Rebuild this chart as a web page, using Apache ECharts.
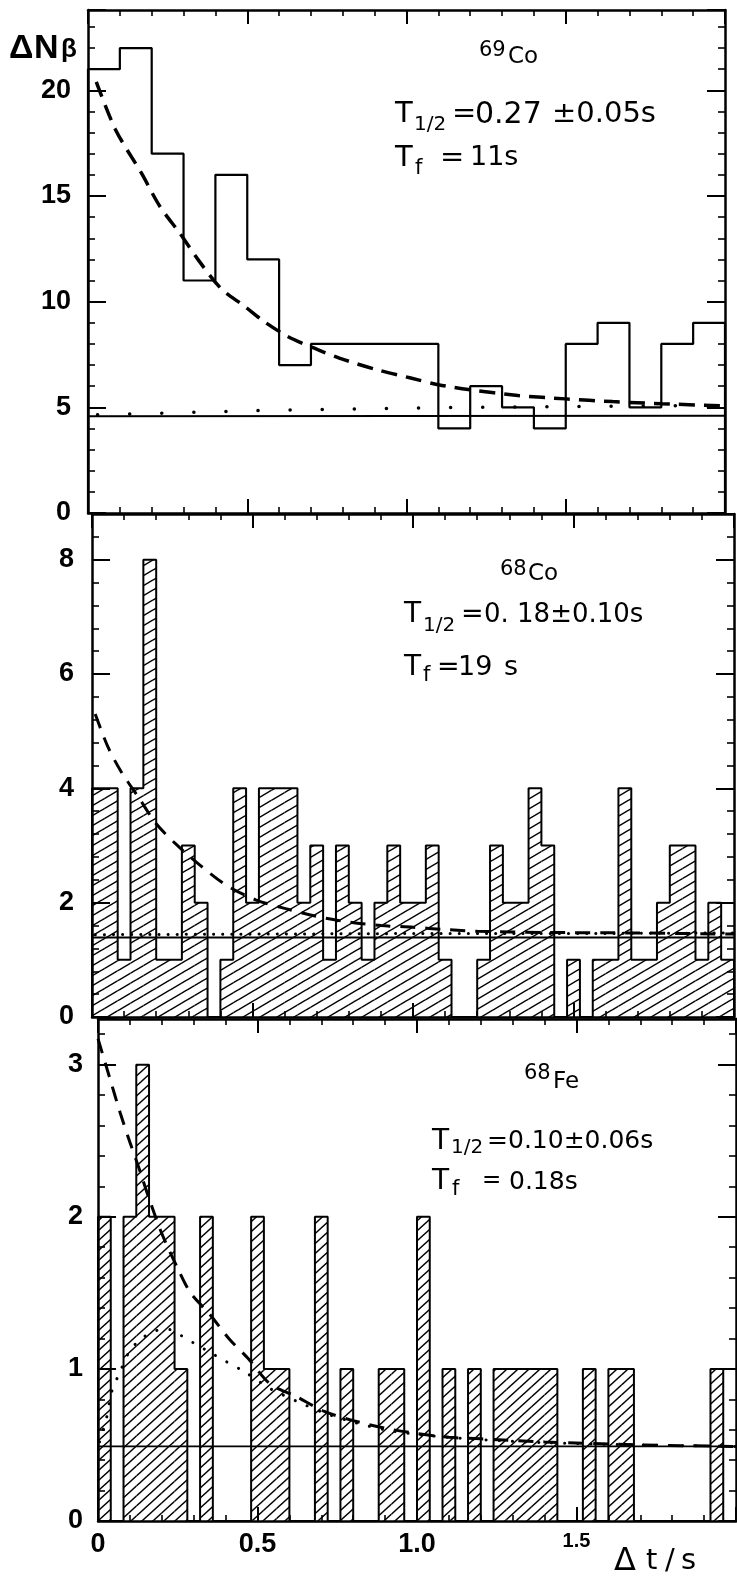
<!DOCTYPE html>
<html><head><meta charset="utf-8">
<script src="https://cdn.jsdelivr.net/npm/echarts@6/dist/echarts.min.js"></script>
<style>html,body{margin:0;padding:0;background:#fff}#c{width:737px;height:1579px}</style>
</head><body><div id="c"></div>
<script>
// ---------------- data ----------------
// x axis (all panels): Δt in s
const xTickLabels = ['0', '0.5', '1.0', '1.5', ''];

// Panel 1: 69Co, bins of 0.1 s
const co69BinWidth = 0.1;
const co69Counts = [21, 22, 17, 11, 16, 12, 7, 8, 8, 8, 8, 4, 6, 5, 4, 8, 9, 5, 8, 9];
const co69Fit = [[0.026, 20.4], [0.086, 18.15], [0.167, 16.1], [0.226, 14.5], [0.29, 13.2], [0.345, 12.0], [0.419, 10.6], [0.49, 9.8], [0.552, 9.07], [0.626, 8.36], [0.697, 7.88], [0.789, 7.33], [0.907, 6.78], [1.01, 6.4], [1.1, 6.07], [1.2, 5.83], [1.35, 5.56], [1.5, 5.4], [1.647, 5.27], [1.8, 5.17], [2.0, 5.07]];
const co69Dotted = [[0.03, 4.65], [0.15, 4.69], [0.37, 4.78], [0.6, 4.87], [0.9, 4.94], [1.2, 5.0], [1.5, 5.03], [1.8, 5.07], [2.0, 5.08]];
const co69Background = [[0, 4.58], [2.0, 4.6]];
const co69YTicks = ['0', '5', '10', '15', '20'];

// Panel 2: 68Co, bins of 0.04 s
const co68BinWidth = 0.04;
const co68Counts = [4, 4, 1, 4, 8, 1, 1, 3, 2, 0, 1, 4, 2, 4, 4, 4, 2, 3, 1, 3, 2, 1, 2, 3, 2, 2, 3, 1, 0, 0, 1, 3, 2, 2, 4, 3, 0, 1, 0, 1, 1, 4, 1, 1, 2, 3, 3, 1, 2, 1];
const co68Fit = [[0.01, 5.3], [0.05, 4.72], [0.09, 4.3], [0.15, 3.8], [0.2, 3.38], [0.27, 2.98], [0.34, 2.64], [0.42, 2.3], [0.51, 2.05], [0.6, 1.9], [0.7, 1.76], [0.8, 1.66], [0.9, 1.6], [1.0, 1.57], [1.1, 1.53], [1.2, 1.5], [1.4, 1.48], [1.7, 1.47], [2.0, 1.45]];
const co68Dotted = [[0.01, 1.44], [0.5, 1.45], [1.0, 1.46], [1.5, 1.46], [2.0, 1.47]];
const co68Background = [[0, 1.39], [2.0, 1.39]];
const co68YTicks = ['0', '2', '4', '6', '8'];

// Panel 3: 68Fe, bins of 0.04 s
const fe68BinWidth = 0.04;
const fe68Counts = [2, 0, 2, 3, 2, 2, 1, 0, 2, 0, 0, 0, 2, 1, 1, 0, 0, 2, 0, 1, 0, 0, 1, 1, 0, 2, 0, 1, 0, 1, 0, 1, 1, 1, 1, 1, 0, 0, 1, 0, 1, 1, 0, 0, 0, 0, 0, 0, 1, 0];
const fe68Fit = [[0, 3.17], [0.03, 2.96], [0.07, 2.68], [0.1, 2.49], [0.13, 2.31], [0.16, 2.12], [0.2, 1.89], [0.25, 1.66], [0.29, 1.5], [0.35, 1.36], [0.41, 1.2], [0.47, 1.07], [0.54, 0.9], [0.62, 0.82], [0.71, 0.72], [0.8, 0.66], [0.9, 0.61], [1.0, 0.575], [1.1, 0.55], [1.2, 0.54], [1.4, 0.52], [1.7, 0.5], [2.0, 0.49]];
const fe68Dotted = [[0.005, 0.52], [0.027, 0.68], [0.043, 0.85], [0.069, 0.98], [0.1, 1.12], [0.137, 1.2], [0.18, 1.25], [0.22, 1.26], [0.26, 1.22], [0.3, 1.17], [0.35, 1.11], [0.4, 1.05], [0.46, 0.98], [0.54, 0.87], [0.62, 0.79], [0.71, 0.71], [0.8, 0.65], [0.9, 0.6], [1.0, 0.57], [1.1, 0.55], [1.2, 0.535], [1.4, 0.515], [1.7, 0.5], [2.0, 0.49]];
const fe68Background = [[0, 0.49], [2.0, 0.49]];
const fe68YTicks = ['0', '1', '2', '3'];

// ---------------- helpers ----------------
function hatchPattern(w, h, lw) {
  const c = document.createElement('canvas');
  c.width = w; c.height = h;
  const g = c.getContext('2d');
  g.strokeStyle = '#000'; g.lineWidth = lw;
  for (let k = -1; k <= 1; k++) {
    g.beginPath();
    g.moveTo(-1, h + h / w + k * h);
    g.lineTo(w + 1, -h / w + k * h);
    g.stroke();
  }
  return { image: c, repeat: 'repeat' };
}
function stepOutline(counts, width) {
  const d = [[0, 0]];
  counts.forEach((v, k) => d.push([k * width, v]));
  d.push([counts.length * width, counts[counts.length - 1]]);
  d.push([counts.length * width, 0]);
  return d;
}
function hatchSeries(counts, width, pattern, gi) {
  return {
    type: 'custom', xAxisIndex: 2 * gi, yAxisIndex: 2 * gi, clip: true, silent: true,
    data: counts.map((v, k) => [k, v]),
    renderItem: function (params, api) {
      const k = api.value(0), v = api.value(1);
      if (!v) return null;
      const p0 = api.coord([k * width, v]);
      const p1 = api.coord([(k + 1) * width, 0]);
      return { type: 'rect', shape: { x: p0[0], y: p0[1], width: p1[0] - p0[0], height: p1[1] - p0[1] },
               style: { fill: pattern, stroke: null } };
    }
  };
}
function lineSeries(data, gi, style, extra) {
  return Object.assign({ type: 'line', xAxisIndex: 2 * gi, yAxisIndex: 2 * gi, data: data,
    symbol: 'none', silent: true, clip: true, lineStyle: Object.assign({ color: '#000' }, style) }, extra || {});
}
const axisLineStyle = { color: '#000', width: 2.5 };
function xAx(gi, pos, showLabel) {
  return {
    type: 'value', gridIndex: gi, position: pos, min: 0, max: 2, interval: 0.5,
    axisLine: { show: true, onZero: false, lineStyle: axisLineStyle },
    axisTick: { show: true, inside: true, length: 14, lineStyle: { color: '#000', width: 2 } },
    minorTick: { show: true, splitNumber: 5, length: 6, lineStyle: { color: '#000', width: 1.6 } },
    splitLine: { show: false }, minorSplitLine: { show: false },
    axisLabel: { show: showLabel, margin: 10, showMaxLabel: false, color: '#000',
      fontFamily: 'Liberation Sans', fontWeight: 'bold', fontSize: 27,
      formatter: function (v) { const s = xTickLabels[Math.round(v / 0.5)]; return s === '1.5' ? '{s|' + s + '}' : s; },
      rich: { s: { fontFamily: 'Liberation Sans', fontWeight: 'bold', fontSize: 20, color: '#000' } } }
  };
}
function yAx(gi, pos, max, interval, labels, margin) {
  return {
    type: 'value', gridIndex: gi, position: pos, min: 0, max: max, interval: interval,
    axisLine: { show: true, onZero: false, lineStyle: axisLineStyle },
    axisTick: { show: true, inside: true, length: 18, lineStyle: { color: '#000', width: 2 } },
    minorTick: { show: true, splitNumber: 5, length: 7, lineStyle: { color: '#000', width: 1.6 } },
    splitLine: { show: false }, minorSplitLine: { show: false },
    axisLabel: { show: pos === 'left', margin: margin, showMaxLabel: false, color: '#000',
      fontFamily: 'Liberation Sans', fontWeight: 'bold', fontSize: 27,
      formatter: function (v) { return labels[Math.round(v / interval)] || ''; } }
  };
}

const pat2 = hatchPattern(17, 10, 1.5);
const pat3 = hatchPattern(11, 10, 1.4);

const grids = [
  { left: 88, right: 12, top: 10, height: 503 },
  { left: 92, right: 3, top: 514, height: 503 },
  { left: 98, right: 1, top: 1019, height: 502 }
];

const dashed1 = { width: 3.5, type: [16, 9] };
const dashed = { width: 3, type: [15, 10] };

const series = [
  // panel 1
  lineSeries(co69Background, 0, { width: 2 }),
  lineSeries(co69Dotted, 0, { width: 3.5, type: [0.1, 32], cap: 'round' }),
  lineSeries(stepOutline(co69Counts, co69BinWidth), 0, { width: 2.2 }, { step: 'end' }),
  lineSeries(co69Fit, 0, dashed1, { smooth: 0.3 }),
  // panel 2
  hatchSeries(co68Counts, co68BinWidth, pat2, 1),
  lineSeries(co68Background, 1, { width: 2 }),
  lineSeries(co68Dotted, 1, { width: 3, type: [0.1, 9], cap: 'round' }),
  lineSeries(stepOutline(co68Counts, co68BinWidth), 1, { width: 2 }, { step: 'end' }),
  lineSeries(co68Fit, 1, dashed, { smooth: 0.3 }),
  // panel 3
  hatchSeries(fe68Counts, fe68BinWidth, pat3, 2),
  lineSeries(fe68Background, 2, { width: 1.8 }),
  lineSeries(fe68Dotted, 2, { width: 3, type: [0.1, 13], cap: 'round' }, { smooth: 0.3 }),
  lineSeries(stepOutline(fe68Counts, fe68BinWidth), 2, { width: 2 }, { step: 'end' }),
  lineSeries(fe68Fit, 2, dashed, { smooth: 0.3 })
];

const ff = 'DejaVu Sans';
function txt(t, x, y, size, bold, fam) {
  return { type: 'text', left: x, top: y, z: 100, silent: true,
    style: { text: t, x: 0, y: 0, fill: '#000', font: (bold ? 'bold ' : '') + size + 'px "' + (fam || ff) + '"', verticalAlign: 'middle', align: 'left' } };
}
const graphics = [
  txt('Δ', 9, 32, 34, true, 'Liberation Sans'),
  txt('N', 34, 32, 34, true, 'Liberation Sans'),
  txt('β', 61, 37, 26, true, 'Liberation Sans'),
  // panel 1
  txt('69', 479, 40, 21), txt('Co', 508, 46, 23),
  txt('T', 395, 100, 29), txt('1/2', 414, 115, 20), txt('=', 452, 100, 29),
  txt('0.27', 475, 100, 30), txt('±0.05s', 552, 100, 29),
  txt('T', 395, 144, 29), txt('f', 415, 158, 21), txt('=', 440, 144, 29), txt('11s', 470, 144, 27),
  // panel 2
  txt('68', 500, 559, 21), txt('Co', 528, 563, 23),
  txt('T', 404, 601, 28), txt('1/2', 423, 616, 20), txt('=', 461, 601, 27),
  txt('0. 18±0.10s', 484, 602, 26),
  txt('T', 404, 654, 28), txt('f', 423, 665, 21), txt('=', 437, 654, 27), txt('19', 458, 654, 27), txt('s', 504, 654, 27),
  // panel 3
  txt('68', 524, 1063, 21), txt('Fe', 553, 1071, 23),
  txt('T', 432, 1128, 28), txt('1/2', 451, 1138, 20), txt('=', 487, 1129, 25),
  txt('0.10±0.06s', 508, 1129, 25),
  txt('T', 432, 1168, 28), txt('f', 452, 1179, 21), txt('=', 482, 1170, 23), txt('0.18s', 509, 1170, 25),
  // x axis name
  txt('Δ', 614, 1546, 32), txt('t', 646, 1547, 29), txt('/', 665, 1547, 29), txt('s', 681, 1547, 29)
];

const chart = echarts.init(document.getElementById('c'), null, { renderer: 'canvas' });
chart.setOption({
  animation: false,
  backgroundColor: '#fff',
  grid: grids,
  xAxis: [xAx(0, 'bottom', false), xAx(0, 'top', false), xAx(1, 'bottom', false), xAx(1, 'top', false), xAx(2, 'bottom', true), xAx(2, 'top', false)],
  yAxis: [yAx(0, 'left', 23.8, 5, co69YTicks, 17), yAx(0, 'right', 23.8, 5, co69YTicks, 17),
          yAx(1, 'left', 8.8, 2, co68YTicks, 18), yAx(1, 'right', 8.8, 2, co68YTicks, 18),
          yAx(2, 'left', 3.3, 1, fe68YTicks, 15), yAx(2, 'right', 3.3, 1, fe68YTicks, 15)],
  series: series,
  graphic: graphics
});
</script></body></html>
